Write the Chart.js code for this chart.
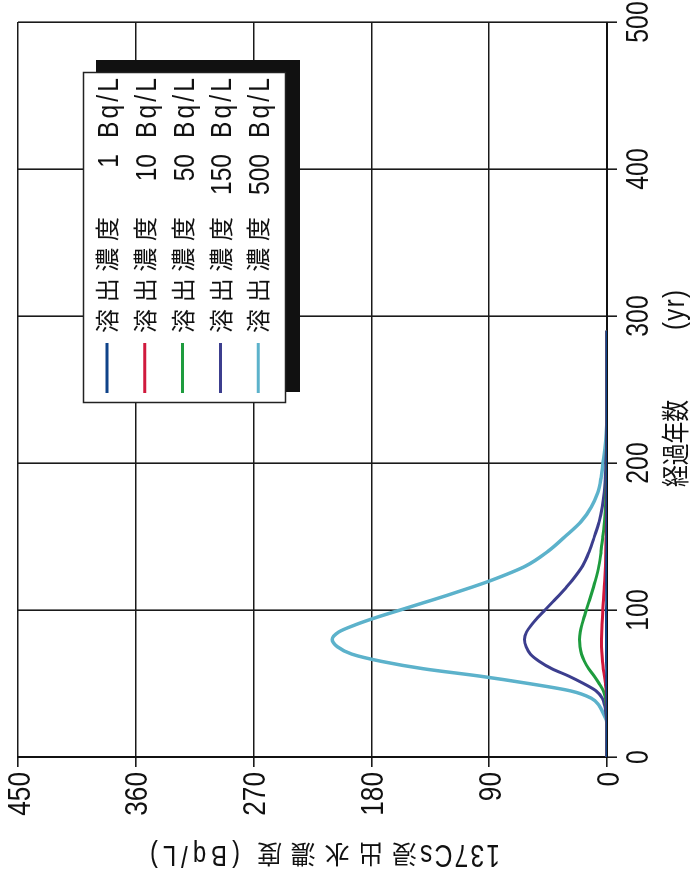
<!DOCTYPE html>
<html><head><meta charset="utf-8">
<script src="https://cdn.jsdelivr.net/npm/chart.js@4"></script>
<style>
html,body{margin:0;padding:0;background:#fff;overflow:hidden;width:690px;height:881px;}
#wrap{position:absolute;left:0;top:0;width:881px;height:690px;transform-origin:0 0;transform:translateY(881px) rotate(-90deg);background:#fff;}
canvas{display:block;}
</style></head><body>
<div id="wrap"><canvas id="c" width="881" height="690"></canvas></div>
<script>
// Elapsed years (x)
const years = [0,10,20,25,30,35,40,45,50,55,60,65,70,75,80,85,90,95,100,105,110,115,120,130,140,150,160,170,180,190,200,210,220,230,240,260,290];
// 137Cs leachate concentration (Bq/L) for each leaching concentration
const conc1   = [0,0,0,0,0.01,0.01,0.02,0.06,0.12,0.19,0.28,0.34,0.39,0.41,0.42,0.41,0.38,0.35,0.32,0.28,0.24,0.21,0.18,0.12,0.09,0.06,0.04,0.02,0.01,0.01,0.01,0,0,0,0,0,0];
const conc10  = [0,0,0,0.01,0.06,0.12,0.24,0.56,1.2,1.94,2.8,3.44,3.9,4.12,4.2,4.1,3.84,3.52,3.16,2.8,2.44,2.1,1.78,1.24,0.9,0.64,0.4,0.24,0.14,0.09,0.06,0.03,0.01,0,0,0,0];
const conc50  = [0,0,0,0.05,0.3,0.6,1.2,2.8,6,9.7,14,17.2,19.5,20.6,21,20.5,19.2,17.6,15.8,14,12.2,10.5,8.9,6.2,4.5,3.2,2,1.2,0.7,0.45,0.3,0.15,0.05,0,0,0,0];
const conc150 = [0,0,0,0.15,0.9,1.8,3.6,8.4,18,29.1,42,51.6,58.5,61.8,63,61.5,57.6,52.8,47.4,42,36.6,31.5,26.7,18.6,13.5,9.6,6,3.6,2.1,1.35,0.9,0.45,0.15,0,0,0,0];
const conc500 = [0,0,0,0.5,3,6,12,28,60,97,140,172,195,206,210,205,192,176,158,140,122,105,89,62,45,32,20,12,7,4.5,3,1.5,0.5,0,0,0,0];

const legendPrefix = '溶出濃度';
const legendValues = ['1','10','50','150','500'];
const legendUnit = 'Bq/L';
const xTicks = [0,100,200,300,400,500];
const yTicks = [0,90,180,270,360,450];
const xTitleMain = '経過年数';
const xTitleUnit = '(yr)';
const yTitleIso = '137Cs';
const yTitleMain = '浸出水濃度';
const yTitleUnit = '(Bq/L)';

const seriesList = [conc1, conc10, conc50, conc150, conc500];
const colors = ['#0f4389','#d0193d','#1e9c3e','#3c3e8e','#5cb2cb'];
const widths = [3,3,3,3,3.5];

const NUM_FONT = "'Liberation Sans',Arial,sans-serif";
const CJK_FONT = "'Noto Sans CJK JP','Noto Sans',sans-serif";
const INK = '#111';

// draw text condensed horizontally by factor k
function narrowText(c, text, x, y, font, k, align) {
  c.save();
  c.font = font;
  const w = c.measureText(text).width * k;
  let sx = x;
  if (align === 'right') sx = x - w;
  else if (align === 'center') sx = x - w / 2;
  c.translate(sx, y);
  c.scale(k, 1);
  c.textAlign = 'left';
  c.fillText(text, 0, 0);
  c.restore();
}
// draw characters spread so the text spans [x0, x1] along current x direction
function spanText(c, text, x0, x1, y, font, k) {
  c.save();
  c.font = font;
  const chars = Array.from(text);
  const ws = chars.map(ch => c.measureText(ch).width * k);
  const total = ws.reduce((a, b) => a + b, 0);
  const gap = chars.length > 1 ? ((x1 - x0) - total) / (chars.length - 1) : 0;
  let cx = x0;
  chars.forEach((ch, i) => {
    c.save();
    c.translate(cx, y);
    c.scale(k, 1);
    c.textAlign = 'left';
    c.fillText(ch, 0, 0);
    c.restore();
    cx += ws[i] + gap;
  });
  c.restore();
}

const decorPlugin = {
  id: 'decor',
  afterDraw(chart) {
    const c = chart.ctx;
    const a = chart.chartArea;
    const xs = chart.scales.x, ys = chart.scales.y;
    c.save();
    c.fillStyle = INK;
    c.textBaseline = 'alphabetic';
    // tick labels
    xs.ticks.forEach(t => narrowText(c, String(t.value), xs.getPixelForValue(t.value), a.bottom + 41, '31px ' + NUM_FONT, 0.8, 'center'));
    ys.ticks.forEach(t => narrowText(c, String(t.value), a.left - 15, ys.getPixelForValue(t.value) + 11.5, '32px ' + NUM_FONT, 0.82, 'right'));
    // x title
    c.textBaseline = 'middle';
    spanText(c, xTitleMain, a.left + 270, a.left + 357, a.bottom + 68, '28px ' + CJK_FONT, 0.78);
    spanText(c, xTitleUnit, a.left + 427, a.left + 467, a.bottom + 69, '30px ' + NUM_FONT, 0.8);
    // y title (rotated, reading bottom to top)
    c.save();
    c.translate(26, 0);
    c.rotate(-Math.PI / 2);
    spanText(c, yTitleIso, -500, -420, 1, '31px ' + NUM_FONT, 0.8);
    spanText(c, yTitleMain, -417, -257, 0, '25px ' + CJK_FONT, 1);
    spanText(c, yTitleUnit, -240, -150, 1, '30px ' + NUM_FONT, 0.8);
    c.restore();
    // legend box with shadow
    const L = a.left + 354, T = a.top + 65, W = 330, H = 202;
    c.fillStyle = INK;
    c.fillRect(L + 11, T + 13, W + 2, H + 2);
    c.fillStyle = '#fff';
    c.fillRect(L, T, W, H);
    c.strokeStyle = '#222'; c.lineWidth = 1.5;
    c.strokeRect(L + 0.5, T + 0.5, W, H);
    chart.data.datasets.forEach((ds, i) => {
      const cy = T + 24 + i * 37.8;
      c.strokeStyle = ds.borderColor; c.lineWidth = 3;
      c.beginPath(); c.moveTo(L + 10, cy); c.lineTo(L + 60, cy); c.stroke();
      c.fillStyle = INK;
      c.textBaseline = 'middle';
      spanText(c, legendPrefix, L + 70, L + 186, cy, '24px ' + CJK_FONT, 1);
      c.textBaseline = 'alphabetic';
      narrowText(c, legendValues[i], L + 249, cy + 11, '30px ' + NUM_FONT, 0.82, 'right');
      spanText(c, legendUnit, L + 265, L + 325, cy + 11, '30px ' + NUM_FONT, 0.82);
    });
    c.restore();
  }
};

new Chart(document.getElementById('c').getContext('2d'), {
  type: 'line',
  data: {
    datasets: seriesList.map((s, i) => ({
      label: legendPrefix + ' ' + legendValues[i] + ' ' + legendUnit,
      data: years.map((x, j) => ({x: x, y: s[j]})),
      borderColor: colors[i],
      borderWidth: widths[i],
      pointRadius: 0,
      fill: false,
      cubicInterpolationMode: 'monotone'
    }))
  },
  options: {
    responsive: false,
    animation: false,
    devicePixelRatio: 1,
    layout: {padding: {left: 0, right: 22, top: 18, bottom: 0}},
    plugins: {legend: {display: false}, tooltip: {enabled: false}},
    scales: {
      x: {
        type: 'linear', min: 0, max: 500,
        afterBuildTicks(s) { s.ticks = xTicks.map(v => ({value: v})); },
        ticks: {display: false},
        grid: {color: '#1a1a1a', lineWidth: 1.6, tickLength: 10},
        border: {color: INK, width: 2},
        afterFit(s) { s.height = 83; }
      },
      y: {
        type: 'linear', min: 0, max: 450,
        afterBuildTicks(s) { s.ticks = yTicks.map(v => ({value: v})); },
        ticks: {display: false},
        grid: {color: '#1a1a1a', lineWidth: 1.6, tickLength: 10},
        border: {color: INK, width: 2},
        afterFit(s) { s.width = 124; }
      }
    }
  },
  plugins: [decorPlugin]
});
</script>
</body></html>
